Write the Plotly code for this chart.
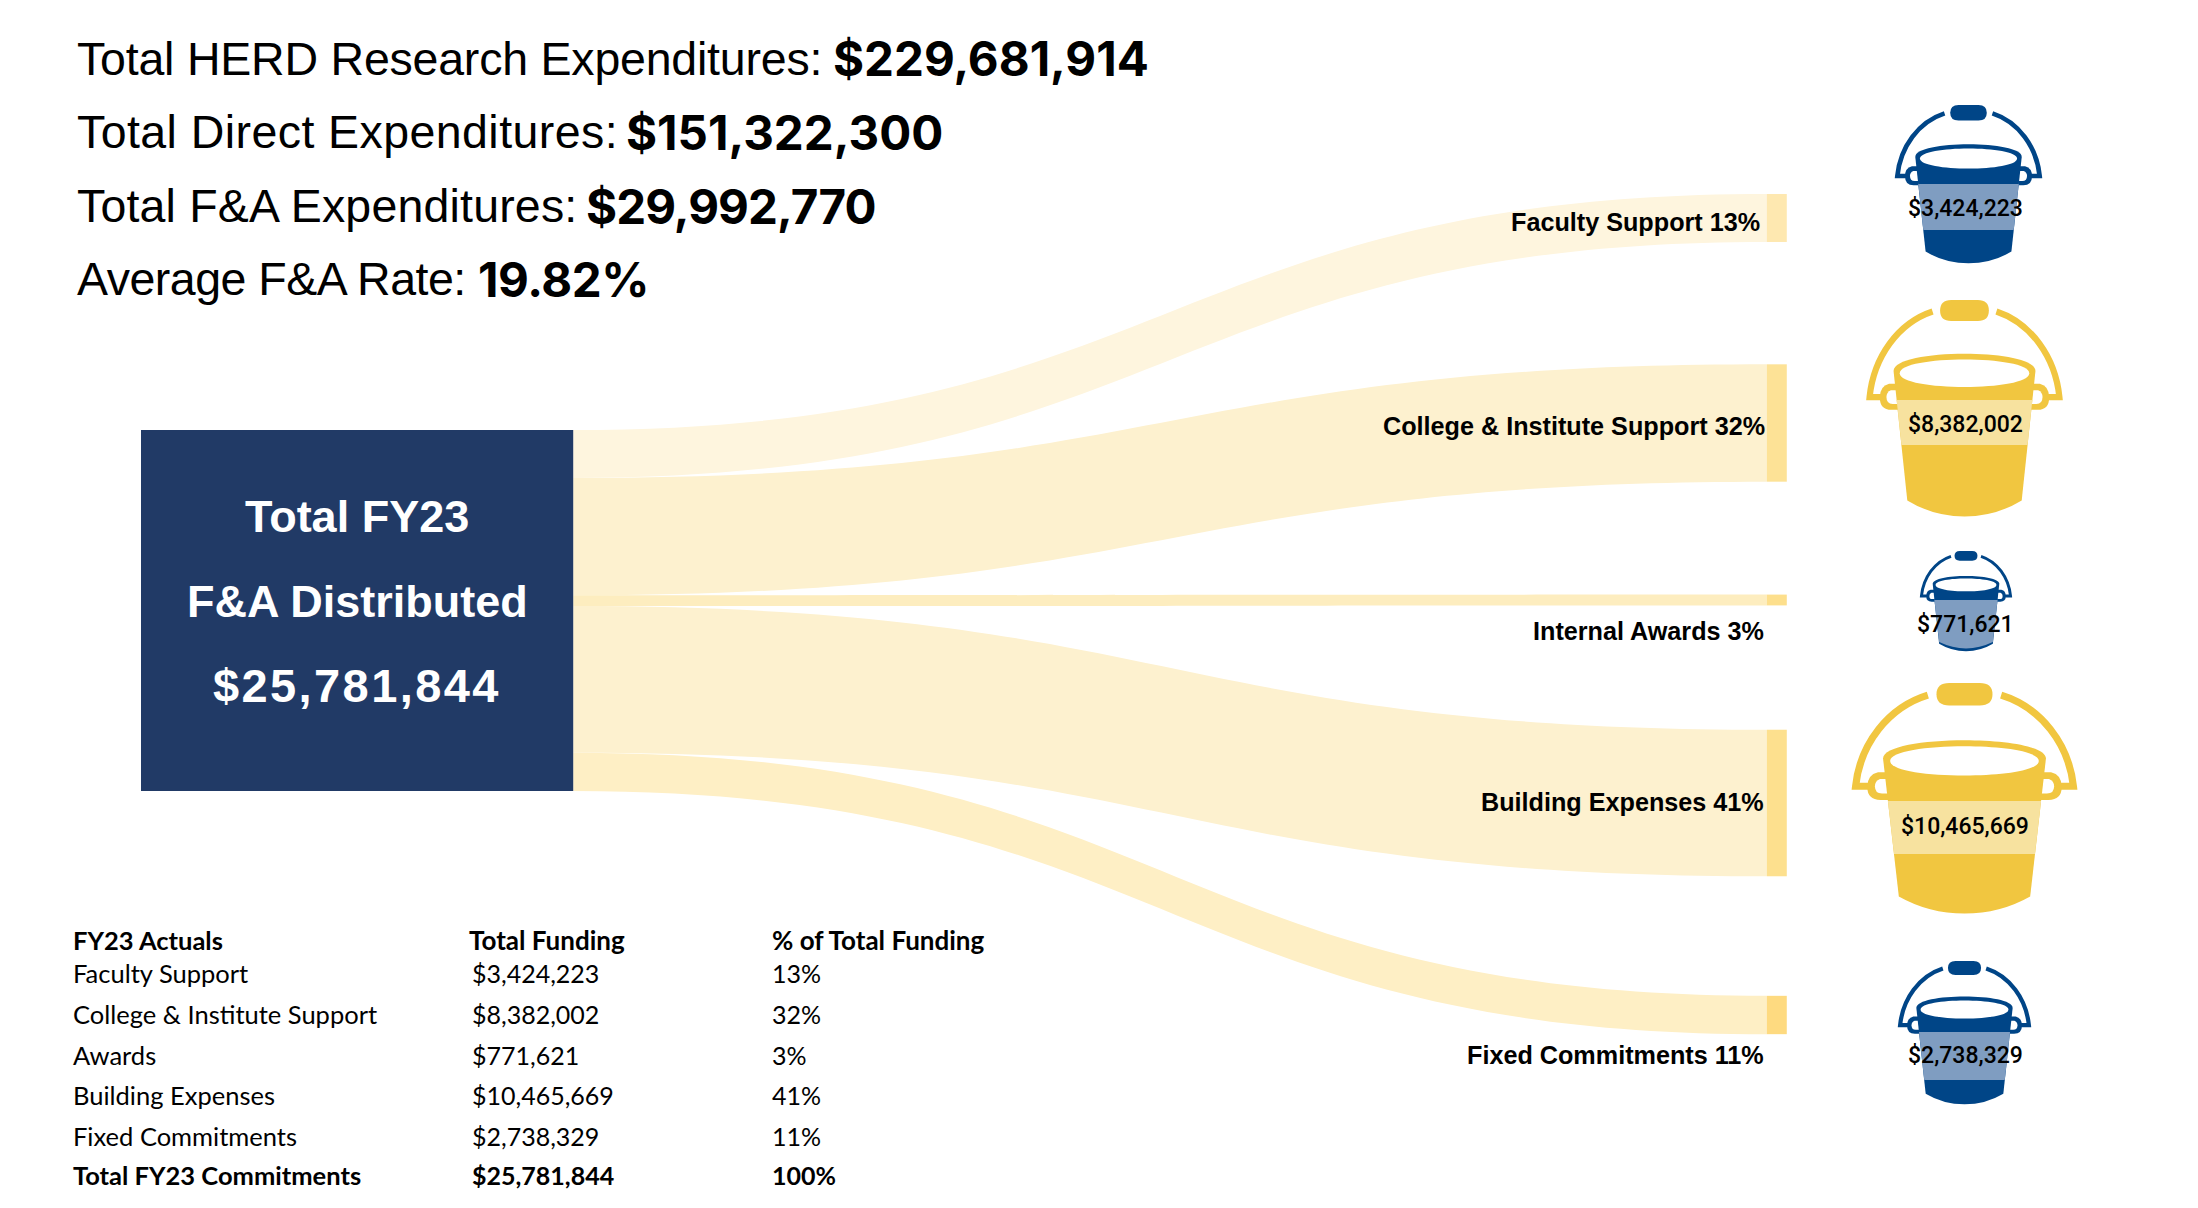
import plotly.graph_objects as go

WIDTH = 2198
HEIGHT = 1208

headline_labels = [
    "Total HERD Research Expenditures:",
    "Total Direct Expenditures:",
    "Total F&A Expenditures:",
    "Average F&A Rate:",
]
headline_values = ["$229,681,914", "$151,322,300", "$29,992,770", "19.82%"]

categories = [
    "Faculty Support",
    "College & Institute Support",
    "Internal Awards",
    "Building Expenses",
    "Fixed Commitments",
]
table_names = [
    "Faculty Support",
    "College & Institute Support",
    "Awards",
    "Building Expenses",
    "Fixed Commitments",
]
funding = [3424223, 8382002, 771621, 10465669, 2738329]
shares = [13, 32, 3, 41, 11]
total_funding = 25781844

link_colors = ["#FEF5DE", "#FDF1CF", "#FDEDBF", "#FDF1CF", "#FEEFC5"]
node_colors = ["#FEE8B0", "#FDE296", "#FDDF8C", "#FDE08E", "#FEDA80"]
NAVY = "#213A66"
BLUE = ("#004587", "#7F9DC1")
GOLD = ("#F1C640", "#F7E29F")
bucket_styles = [BLUE, GOLD, BLUE, GOLD, BLUE]

# pixel layout of the page
BOX = (141, 430, 573, 791)
NODE_W = 20
SANKEY_LEFT = BOX[2] - NODE_W / 2 - 1
SANKEY_RIGHT = 1778
SANKEY_TOP = 150
SANKEY_H = 950
node_centers = [218, 423, 600, 803, 1015]
label_ends = [1762, 1767, 1766, 1766, 1766]
label_ys = [222, 426, 631, 802, 1055]
headline_tracking = [-0.21, 0.43, 0.18, -0.5]
value_tracking = [0, 0, -0.9, -0.4]

# cx, top, width, height of each bucket; y of its money label; band top and bottom
buckets = [
    (1968.5, 105, 147, 158, 208, 184, 230),
    (1964.5, 300, 196, 216, 424, 400, 445),
    (1966, 551, 92, 100, 624, 600, 660),
    (1964.5, 683, 225, 230, 826, 801, 854),
    (1964.5, 961, 133, 143, 1055, 1032, 1080),
]


def px(x):
    return x / WIDTH


def py(y):
    return 1 - y / HEIGHT


def note(text, x, y, size, family, color="black", anchor="left", bold=False, weight=None, track=0):
    if track:
        text = f'<span style="letter-spacing:{track}px">{text}</span>'
    return dict(
        text=f"<b>{text}</b>" if bold else text,
        xref="paper",
        yref="paper",
        x=px(x),
        y=py(y),
        xanchor=anchor,
        yanchor="middle",
        showarrow=False,
        align=anchor,
        font=dict(size=size, family=family, color=color, weight=weight or "normal"),
    )


def bucket_shapes(cx, top, w, h, band_y0, band_y1, dark, light):
    sx = w / 442
    sy = h / 472

    def pt(u, v):
        return f"{px(cx + u * sx):.5f},{py(top + v * sy):.5f}"

    def path(d, fill, line=None, lw=0):
        parts = []
        for tok in d:
            parts.append(tok if isinstance(tok, str) else pt(*tok))
        return dict(
            type="path",
            path=" ".join(parts),
            xref="paper",
            yref="paper",
            fillcolor=fill,
            line=dict(color=line or fill, width=lw),
            layer="above",
        )

    stroke = max(2, 14 * sx)
    shapes = []
    # handle, both sides
    for m in (-1, 1):
        shapes.append(
            path(
                ["M", (m * 185, 212), "L", (m * 214, 212),
                 "C", (m * 205, 125), (m * 150, 50), (m * 72, 25)],
                "rgba(0,0,0,0)", dark, stroke,
            )
        )
    # pill on the handle
    shapes.append(
        path(
            ["M", (-30, 0), "L", (30, 0), "Q", (55, 0), (55, 23), "Q", (55, 46), (30, 46),
             "L", (-30, 46), "Q", (-55, 46), (-55, 23), "Q", (-55, 0), (-30, 0), "Z"],
            dark,
        )
    )
    # ears with their holes
    for m in (-1, 1):
        shapes.append(
            path(
                ["M", (m * 150, 183), "L", (m * 170, 183), "Q", (m * 191, 188), (m * 191, 213),
                 "Q", (m * 191, 240), (m * 165, 240), "L", (m * 150, 240), "Z"],
                dark,
            )
        )
        shapes.append(
            path(
                ["M", (m * 150, 197), "L", (m * 166, 197), "Q", (m * 176, 201), (m * 176, 212),
                 "Q", (m * 176, 227), (m * 162, 227), "L", (m * 150, 227), "Z"],
                "white",
            )
        )
    # body silhouette
    shapes.append(
        path(
            ["M", (-160, 155), "C", (-160, 105), (160, 105), (160, 155),
             "L", (129, 438), "Q", (70, 473), (0, 473), "Q", (-70, 473), (-129, 438), "Z"],
            dark,
        )
    )
    # lighter band behind the money label
    band_top = (band_y0 - top) / sy
    band_bottom = (band_y1 - top) / sy
    half = lambda v: 160 - (v - 155) * 0.11
    if band_bottom < 430:
        band = ["M", (-half(band_top), band_top), "L", (half(band_top), band_top),
                "L", (half(band_bottom), band_bottom), "L", (-half(band_bottom), band_bottom), "Z"]
    else:
        band = ["M", (-half(band_top), band_top), "L", (half(band_top), band_top),
                "L", (129, 430), "Q", (65, 460), (0, 460), "Q", (-65, 460), (-129, 430), "Z"]
    shapes.append(path(band, light))
    # open top of the bucket
    shapes.append(
        path(
            ["M", (-146, 160), "C", (-146, 120), (146, 120), (146, 160),
             "C", (146, 200), (-146, 200), (-146, 160), "Z"],
            "white",
        )
    )
    return shapes


node_y = [((BOX[1] + BOX[3]) / 2 - SANKEY_TOP) / SANKEY_H]
node_y += [(center - SANKEY_TOP) / SANKEY_H for center in node_centers]
box_h = BOX[3] - BOX[1]

fig = go.Figure(
    go.Sankey(
        arrangement="fixed",
        domain=dict(
            x=[px(SANKEY_LEFT), px(SANKEY_RIGHT)],
            y=[py(SANKEY_TOP + SANKEY_H), py(SANKEY_TOP)],
        ),
        node=dict(
            label=[""] * 6,
            x=[0.001] + [0.999] * 5,
            y=node_y,
            pad=(SANKEY_H - box_h) / 4,
            thickness=NODE_W,
            color=[NAVY] + node_colors,
            line=dict(width=0),
        ),
        link=dict(
            source=[0] * 5,
            target=[1, 2, 3, 4, 5],
            value=funding,
            color=link_colors,
            customdata=categories,
            hovertemplate="%{customdata}: $%{value:,}<extra></extra>",
        ),
    )
)

annotations = []

for label, value, y, value_x, track, value_track in zip(
    headline_labels, headline_values, [59, 132, 206, 279], [831, 624, 584, 476],
    headline_tracking, value_tracking,
):
    annotations.append(note(label, 75, y, 46.5, "Liberation Sans", track=track))
    annotations.append(note(value, value_x, y, 47.5, "Inter", bold=True, track=value_track))

box_cx = (BOX[0] + BOX[2]) / 2
annotations.append(note("Total FY23", box_cx, 516, 45, "Liberation Sans", "white", "center", bold=True))
annotations.append(note("F&A Distributed", box_cx, 601, 45, "Liberation Sans", "white", "center", bold=True))
annotations.append(
    note(f"${total_funding:,}", box_cx, 685, 47, "Liberation Sans", "white", "center", bold=True, track=2.4)
)

for cat, share, end, y in zip(categories, shares, label_ends, label_ys):
    annotations.append(note(f"{cat} {share}%", end, y, 25.2, "Liberation Sans", anchor="right", bold=True))

shapes = [
    dict(
        type="rect",
        xref="paper",
        yref="paper",
        x0=px(BOX[0]),
        x1=px(BOX[2]),
        y0=py(BOX[1]),
        y1=py(BOX[3]),
        fillcolor=NAVY,
        line=dict(width=0),
        layer="above",
    )
]

for (cx, top, w, h, label_y, band_y0, band_y1), (dark, light), value in zip(buckets, bucket_styles, funding):
    shapes.extend(bucket_shapes(cx, top, w, h, band_y0, band_y1, dark, light))
    annotations.append(note(f"${value:,}", 1965, label_y, 23, "Roboto", anchor="center", weight=500))

# funding table under the flow
table_xs = [71, 470, 770]
table_ys = [973, 1014, 1055, 1095, 1136]
annotations.append(note("FY23 Actuals", table_xs[0], 940, 25.5, "Lato", bold=True))
annotations.append(note("Total Funding", 467, 940, 26, "Lato", bold=True))
annotations.append(note("% of Total Funding", table_xs[2], 940, 26, "Lato", bold=True))
for name, value, share, y in zip(table_names, funding, shares, table_ys):
    annotations.append(note(name, table_xs[0], y, 25.5, "Lato"))
    annotations.append(note(f"${value:,}", table_xs[1], y, 25, "Lato"))
    annotations.append(note(f"{share}%", table_xs[2], y, 25, "Lato"))
annotations.append(note("Total FY23 Commitments", table_xs[0], 1175, 25.5, "Lato", bold=True))
annotations.append(note(f"${total_funding:,}", table_xs[1], 1175, 25, "Lato", bold=True))
annotations.append(note(f"{sum(shares)}%", table_xs[2], 1175, 25, "Lato", bold=True))

fig.update_layout(
    width=WIDTH,
    height=HEIGHT,
    margin=dict(l=0, r=0, t=0, b=0),
    paper_bgcolor="white",
    annotations=annotations,
    shapes=shapes,
)
fig.write_html(
    "out.html",
    config={"displayModeBar": False},
    post_script="document.body.style.margin='0';",
)
